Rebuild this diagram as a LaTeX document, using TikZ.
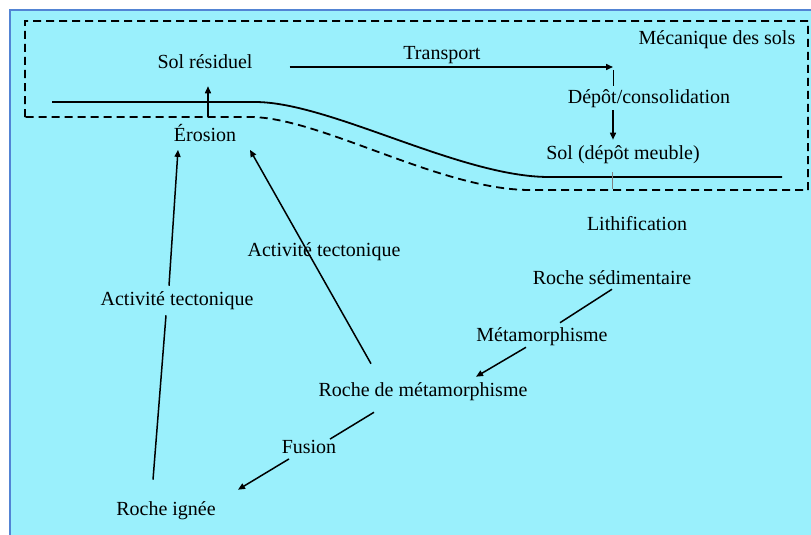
\documentclass[tikz,border=0pt]{standalone}
\usepackage{fontspec}
\setmainfont{Liberation Serif}
\usepackage{xcolor}
\usetikzlibrary{arrows.meta}

\definecolor{fond}{RGB}{154,240,252}
\definecolor{cadre}{RGB}{82,132,212}

\begin{document}
\begin{tikzpicture}[x=1pt,y=-1pt]
            \useasboundingbox (0,0) rectangle (811,535);
            \fill[white] (0,0) rectangle (811,535);
            \fill[fond] (10,10) rectangle (811,535);
            \draw[cadre, line width=2pt] (10,535) -- (10,10) -- (811,10);

            \draw[line width=1.8pt, dash pattern=on 8pt off 5pt]
                (25,117) -- (25,21) -- (808,21) -- (808,190) -- (530,190)
                .. controls (440,190) and (320,117) .. (250,117) -- cycle;
            \draw[line width=1.8pt]
                (52,102) -- (255,102) .. controls (330,102) and (460,177) .. (549,177) -- (782,177);

            \begin{scope}[every node/.style = {inner sep=0pt, font=\fontsize{20}{24}\selectfont}]
                \node (meca)    at (717, 40)  {Mécanique des sols};
                \node (resid)   at (205, 62)  {Sol résiduel};
                \node (transp)  at (442, 55)  {Transport};
                \node (depot)   at (649, 99)  {Dépôt/consolidation};
                \node (meuble)  at (623,155)  {Sol (dépôt meuble)};
                \node (erosion) at (205,133)  {Érosion};
                \node (litho)   at (637,224)  {Lithification};
                \node (sedim)   at (612,278)  {Roche sédimentaire};
                \node (metam)   at (542,337)  {Métamorphisme};
                \node (metaR)   at (423,392)  {Roche de métamorphisme};
                \node (fusion)  at (309,447)  {Fusion};
                \node (ignee)   at (166,511)  {Roche ignée};
                \node (tectA)   at (177,301)  {Activité tectonique};
                \node (tectB)   at (324,252)  {Activité tectonique};
                \coordinate (chute) at (613,67);
            \end{scope}

            \begin{scope}[>={Triangle[length=7pt,width=6pt]},
                            every edge/.style={draw=black,line width=1.5pt}]
                \path [->] ([shift={(37pt,-5pt)}]resid.east) edge (chute);
                \path      ([yshift=-3pt]chute) edge[line width=1pt] ([yshift=4pt]depot.north -| chute);
                \path [->] ([yshift=-2pt]depot.south -| chute) edge ([yshift=6pt]meuble.north -| chute);
                \path      ([shift={(-1pt,-8pt)}]meuble.south -| chute) edge[draw=gray,line width=1pt] ([shift={(-1pt,-25pt)}]meuble.south -| chute);
                \path [->] ([shift={(3pt,7pt)}]erosion.north) edge ([shift={(3pt,-17pt)}]resid.south);
                \path      ([shift={(-13pt,22pt)}]ignee.north) edge ([shift={(-11pt,-5pt)}]tectA.south);
                \path [->] ([shift={(-8pt,6pt)}]tectA.north) edge ([shift={(-27pt,-8pt)}]erosion.south);
                \path [->] ([shift={(-52pt,19pt)}]metaR.north) edge ([shift={(45pt,-8pt)}]erosion.south);
                \path      ([yshift=-4pt]sedim.south) edge ([shift={(18pt,5pt)}]metam.north);
                \path [->] ([shift={(-16pt,-1pt)}]metam.south) edge ([shift={(53pt,6pt)}]metaR.north);
                \path      ([shift={(-49pt,-11pt)}]metaR.south) edge ([shift={(21pt,1pt)}]fusion.north);
                \path [->] ([shift={(-20pt,-5pt)}]fusion.south) edge ([shift={(72pt,12pt)}]ignee.north);
            \end{scope}
        \end{tikzpicture}
\end{document}
